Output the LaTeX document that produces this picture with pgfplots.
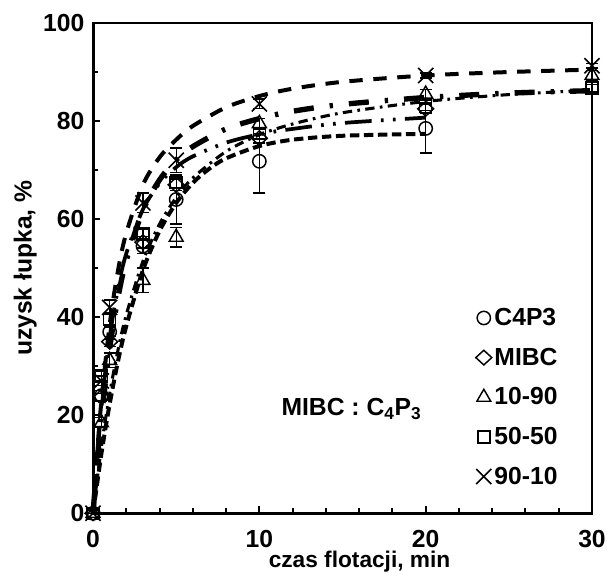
\documentclass[border=0pt]{standalone}
\usepackage{fontspec}
\setmainfont{Liberation Sans}
\usepackage{pgfplots}
\pgfplotsset{compat=1.18}
\usepackage{pgfplotstable}

\newcommand{\F}{\bfseries\fontsize{18.5}{21}\selectfont}
\newcommand{\FL}{\bfseries\fontsize{17}{20}\selectfont}

% marker data: t, value, error
\pgfplotstableread{
t v e
0 0 0
0.5 24 1
1 37 1.5
3 54.5 1.5
5 64 5
10 71.8 6.5
20 78.5 5
}\cfour
\pgfplotstableread{
t v e
0 0 0
0.5 23.7 0.8
1 35 1
3 55.3 1.2
5 67 1.2
10 76.5 1
20 82.5 1
}\mibc
\pgfplotstableread{
t v e
0 0 0
0.5 18.5 1
1 31.2 1.5
3 47.5 2.5
5 56.3 2
10 79.5 1
20 85.5 1
30 89.3 1
}\ta
\pgfplotstableread{
t v e
0 0 0
0.5 28 1
1 39.5 1.5
3 57 1
5 67.5 1
10 77.5 1
20 83 0.8
30 86.7 0.8
}\tb
\pgfplotstableread{
t v e
0 0 0
0.5 27 1
1 42 1.5
3 63.3 2
5 72 2.5
10 83.5 1
20 89.3 0.5
30 91.3 0.5
}\tc

\pgfplotsset{
 ebar/.style={error bars/.cd, y dir=both, y explicit,
   error bar style={line width=1pt, solid},
   error mark options={rotate=90, mark size=4.5pt, line width=1pt, solid},
   /pgfplots/.cd},
 sC/.style={black, mark=o, mark size=5pt, mark options={solid, line width=1.1pt}},
 sM/.style={black, mark=diamond, mark size=5.5pt, mark options={solid, line width=1.1pt, xscale=1.45}},
 sT/.style={black, mark=triangle, mark size=6pt, mark options={solid, line width=1.1pt}},
 sS/.style={black, mark=square, mark size=4.5pt, mark options={solid, line width=1.1pt}},
 sX/.style={black, mark=x, mark size=8pt, mark options={solid, line width=1.2pt}},
}

\begin{document}
\begin{tikzpicture}
\begin{axis}[
 scale only axis, width=374pt, height=367.5pt,
 xmin=0, xmax=30, ymin=0, ymax=100,
 xtick={0,10,20,30}, minor x tick num=4,
 ytick={0,20,...,100}, minor y tick num=1,
 tick align=inside, xtick pos=bottom, ytick pos=left,
 major tick length=5.5pt, minor tick length=4pt,
 every tick/.style={black, line width=1.5pt},
 axis line style={line width=2.2pt},
 tick label style={font=\F},
 yticklabel style={xshift=-3pt},
 xticklabel style={yshift=-9.5pt},
 /pgf/number format/assume math mode=true,
 xlabel={czas flotacji, min}, ylabel={uzysk łupka, \%},
 label style={font=\F},
 xlabel style={font=\FL, yshift=4.5pt, xshift=12.75pt},
 ylabel style={yshift=-2pt},
 clip=false,
 legend style={at={(axis cs:23.0,42.4)}, anchor=north west, draw=none, fill=none,
   font=\F, row sep=11.3pt, inner sep=0pt},
 legend cell align=left,
 legend image code/.code={\draw[#1] plot coordinates {(0.25cm,0cm)};},
]
\addlegendimage{only marks, sC}
\addlegendentry{C4P3}
\addlegendimage{only marks, sM}
\addlegendentry{MIBC}
\addlegendimage{only marks, sT}
\addlegendentry{10-90}
\addlegendimage{only marks, sS}
\addlegendentry{50-50}
\addlegendimage{only marks, sX}
\addlegendentry{90-10}

% fitted curves
\addplot[black, line width=3pt, smooth, dash pattern=on 7pt off 3.5pt, forget plot] coordinates {
(0,0)(0.5,12.1)(1,22.3)(1.5,31.0)(2,38.2)(3,49.6)(4,57.6)(5,63.3)(6,67.4)(7,70.3)(8,72.4)(10,74.9)(12,76.2)(15,77.0)(20,77.4)};
\addplot[black, line width=2.8pt, smooth, dash pattern=on 20pt off 7pt on 2pt off 7pt on 2pt off 7pt, forget plot] coordinates {
(0,0)(0.5,21.4)(1,35.9)(1.5,45.9)(2,53.0)(3,62.0)(4,67.3)(5,70.6)(6,72.8)(8,75.6)(10,77.3)(12,78.4)(15,79.6)(20,80.7)};
\addplot[black, line width=2.3pt, smooth, dash pattern=on 7pt off 4pt on 2pt off 4pt, forget plot] coordinates {
(0,0)(0.5,13.5)(1,24.4)(1.5,33.3)(2,40.5)(3,51.4)(4,59.0)(5,64.4)(6,68.4)(8,73.8)(10,77.2)(12,79.4)(15,81.7)(20,84.0)(25,85.4)(30,86.3)};
\addplot[black, line width=4pt, smooth, dash pattern=on 15pt off 12pt on 2.5pt off 12pt, forget plot] coordinates {
(0,0)(0.25,10.6)(0.5,19.6)(1,33.7)(1.5,44.0)(2,51.6)(3,61.8)(4,68.0)(5,72.1)(6,74.8)(8,78.4)(10,80.5)(12,82.0)(15,83.4)(20,84.8)(25,85.7)(30,86.2)};
\addplot[black, line width=3pt, smooth, dash pattern=on 10pt off 8pt, forget plot] coordinates {
(0,0)(0.25,12.5)(0.5,22.8)(1,38.5)(1.5,49.5)(2,57.2)(3,67.0)(4,72.6)(5,76.2)(6,79.0)(8,82.8)(10,85.1)(12,86.6)(15,88.0)(20,89.3)(25,90.0)(30,90.5)};

% measured points
\addplot[forget plot, only marks, sC, ebar] table[x=t, y=v, y error=e]{\cfour};
\addplot[forget plot, only marks, sM, ebar] table[x=t, y=v, y error=e]{\mibc};
\addplot[forget plot, only marks, sT, ebar] table[x=t, y=v, y error=e]{\ta};
\addplot[forget plot, only marks, sS, ebar] table[x=t, y=v, y error=e]{\tb};
\addplot[forget plot, only marks, sX, ebar] table[x=t, y=v, y error=e]{\tc};

\node[font=\F, anchor=base west] at (axis cs:11.05,20) {MIBC : C\textsubscript{4}P\textsubscript{3}};

\coordinate (sw) at (rel axis cs:0,0);
\coordinate (ne) at (rel axis cs:1,1);
\end{axis}
\pgfresetboundingbox
\path ([xshift=-69.75pt,yshift=-44.25pt]sw) rectangle ([xshift=11.25pt,yshift=17.25pt]ne);
\end{tikzpicture}
\end{document}
